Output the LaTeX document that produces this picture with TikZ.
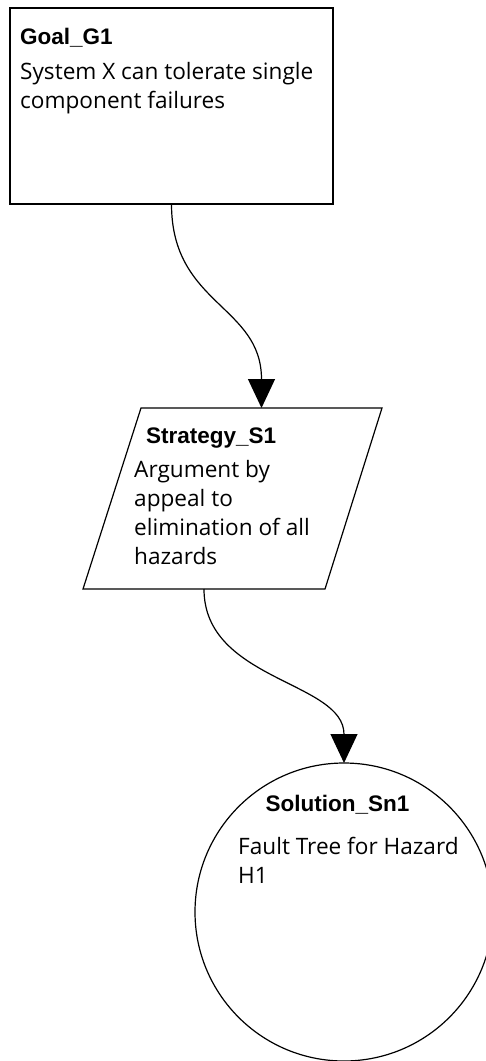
\documentclass[tikz,border=0pt]{standalone}
\usepackage{fontspec}
\setmainfont{Open Sans}
\newfontfamily\titlefont{Liberation Sans}
\usetikzlibrary{arrows.meta}

\tikzset{
  gsnline/.style={draw=black, line width=1.2pt, inner sep=0pt, outer sep=0pt},
  titletext/.style={font=\titlefont\bfseries\fontsize{22.5}{29}\selectfont, inner sep=0pt, anchor=base west},
  bodytext/.style={font=\fontsize{22.6}{29.3}\selectfont, inner sep=0pt, anchor=base west},
  support/.style={draw=black, line width=1.2pt, -{Triangle[length=29pt,width=27pt]}},
}
% stack of lines whose baseline is that of the first line
\newcommand\gsnlines[1]{\vtop{\baselineskip=29.3pt\lineskiplimit=-20pt\halign{##\hfil\cr#1\crcr}}}

\begin{document}
\begin{tikzpicture}[x=1pt,y=-1pt]
  \useasboundingbox (0,0) rectangle (485,1061);

  % Goal G1
  \node[gsnline, rectangle, minimum width=323pt, minimum height=196pt, anchor=north west] (goal) at (10,8) {};
  \node[titletext] (goal-title) at (20,44) {Goal\_G1};
  \node[bodytext] (goal-text) at (20,79) {\gsnlines{System X can tolerate single\cr component failures}};

  % Strategy S1 (parallelogram)
  \coordinate (s1-bl) at (83,589);
  \coordinate (s1-tl) at (141,408);
  \coordinate (s1-tr) at (382,408);
  \coordinate (s1-br) at (325,589);
  \coordinate (s1-in) at (261.5,408);
  \coordinate (s1-out) at (204,589);
  \draw[gsnline] (s1-bl) -- (s1-tl) -- (s1-tr) -- (s1-br) -- cycle;
  \node[titletext] (s1-title) at (146,443) {Strategy\_S1};
  \node[bodytext] (s1-text) at (134,477) {\gsnlines{Argument by\cr appeal to\cr elimination of all\cr hazards}};

  % Solution Sn1
  \node[gsnline, circle, minimum size=298pt] (sn1) at (344,912) {};
  \node[titletext, anchor=base] (sn1-title) at (337.5,811) {Solution\_Sn1};
  \node[bodytext] (sn1-text) at (238,854) {\gsnlines{Fault Tree for Hazard\cr H1}};

  % SupportedBy links
  \draw[support] (goal.south) .. controls +(0,101) and +(0,-103) .. (s1-in);
  \draw[support] (s1-out) .. controls +(0,92) and +(0,-82) .. (sn1.north);
\end{tikzpicture}
\end{document}
